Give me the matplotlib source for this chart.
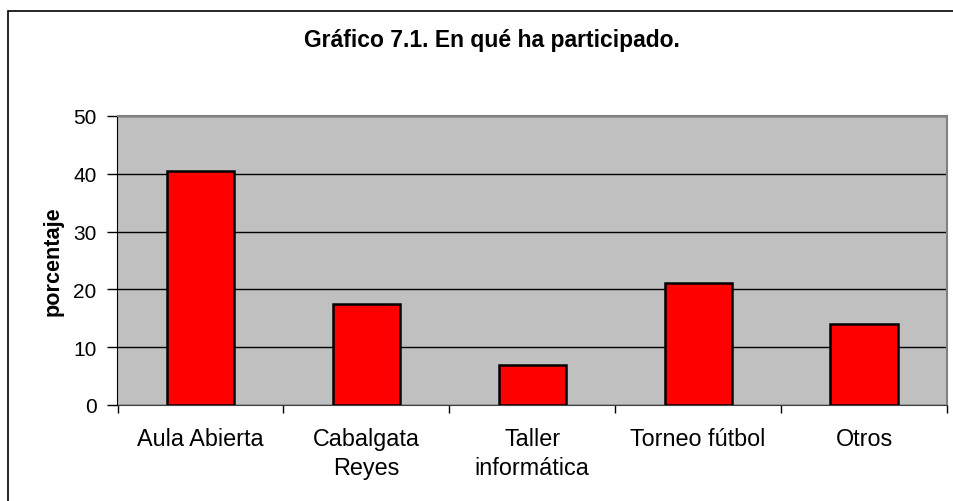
import matplotlib.pyplot as plt
from matplotlib.patches import Rectangle

categories = ["Aula Abierta", "Cabalgata\nReyes", "Taller\ninformática", "Torneo fútbol", "Otros"]
values = [40.4, 17.5, 7.0, 21.1, 14.0]
yticks = [0, 10, 20, 30, 40, 50]

plt.rcParams["font.family"] = ["Liberation Sans", "DejaVu Sans"]

W, H = 954, 502
fig = plt.figure(figsize=(W / 100, H / 100), dpi=100)

# outer chart border (only top and left visible in the reference)
fig.patches.append(Rectangle((8 / W, -0.1), 1.2, (490 / H) + 0.1, transform=fig.transFigure,
                             fill=False, edgecolor="black", linewidth=1.2))

ax = fig.add_axes([117.5 / W, (H - 406) / H, (947 - 117.5) / W, (406 - 117) / H])
ax.set_facecolor("#c0c0c0")

x = list(range(len(categories)))
ax.bar(x, values, width=0.405, color="#ff0000", edgecolor="black", linewidth=1.8, zorder=3)

ax.set_xlim(-0.5, len(categories) - 0.5)
ax.set_ylim(0, 50)
ax.set_yticks(yticks)
ax.set_yticklabels([str(v) for v in yticks], fontsize=15)
ax.yaxis.grid(True, color="black", linewidth=1.0, zorder=1)
ax.set_axisbelow(True)

ax.set_xticks(x)
ax.set_xticklabels(categories, fontsize=16.8, linespacing=1.3)
ax.tick_params(axis="x", length=0, pad=16)
ax.set_xticks([i - 0.5 for i in range(len(categories) + 1)], minor=True)
ax.tick_params(axis="x", which="minor", length=6, width=1, color="black", direction="out")
ax.tick_params(axis="y", length=7, width=1, direction="out", pad=8)

for side in ["top", "right"]:
    ax.spines[side].set_color("#808080")
    ax.spines[side].set_linewidth(1.5)
ax.spines["left"].set_color("black")
ax.spines["bottom"].set_color("#404040")

fig.text(53 / W, 1 - 261 / H, "porcentaje", rotation=90, ha="center", va="center",
         fontsize=15.6, fontweight="bold")

fig.text(492 / W, 1 - 47 / H, "Gráfico 7.1. En qué ha participado.", ha="center", va="baseline",
         fontsize=16.5, fontweight="bold")

fig.savefig("out.png", dpi=100)
